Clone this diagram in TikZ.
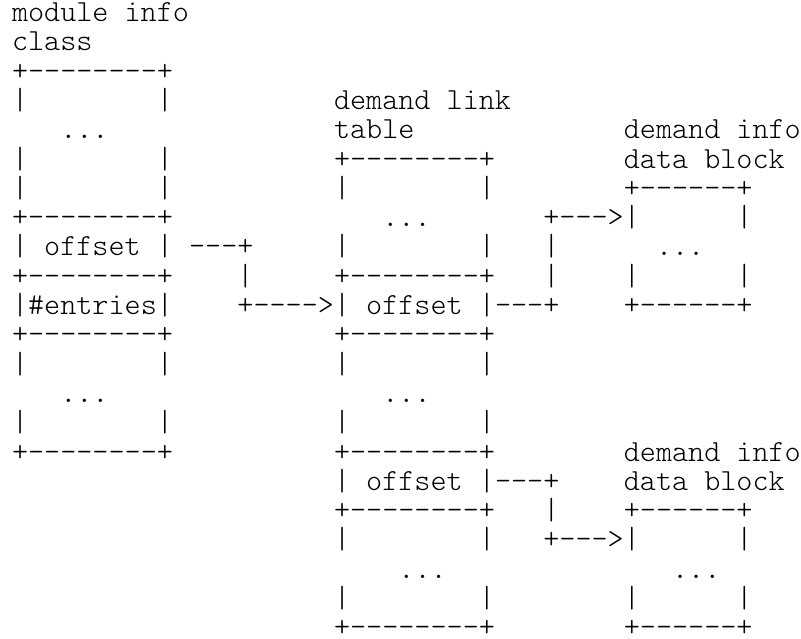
\documentclass[tikz,border=0pt]{standalone}
\usepackage{fontspec}
\setmonofont{lmmonolt10-regular.otf}
\tikzset{
  asc/.style={
    anchor=base west,
    inner sep=0pt,
    outer sep=0pt,
    font=\ttfamily\fontsize{15.33pt}{14.65pt}\selectfont,
  },
}

\begin{document}
\begin{tikzpicture}[x=8.05pt, y=-14.65pt]
\path[fill=white, use as bounding box] (-6pt,10.75pt) rectangle (394.5pt,-308.25pt);

% module info class
\node[asc] (mic-name) at (0,0) {module info};
\node[asc] (mic-name2) at (0,1) {class};
\foreach \r in {2,7,9,11,15}
  \node[asc] (mic-rule\r) at (0,\r) {+--------+};
\foreach \r in {3,5,6,12,14}
  \node[asc] (mic-side\r) at (0,\r) {|~~~~~~~~|};
\node[asc] (mic-dots1) at (3,4) {...};
\node[asc] (mic-dots2) at (3,13) {...};
\node[asc] (mic-off) at (0,8) {|~offset~|};
\node[asc] (mic-cnt) at (0,10) {|\#entries|};

% demand link table
\node[asc] (dlt-name) at (20,3) {demand link};
\node[asc] (dlt-name2) at (20,4) {table};
\foreach \r in {5,9,11,15,17,21}
  \node[asc] (dlt-rule\r) at (20,\r) {+--------+};
\foreach \r in {6,8,12,14,18,20}
  \node[asc] (dlt-side\r) at (20,\r) {|~~~~~~~~|};
\node[asc] (dlt-dots1) at (23,7) {...};
\node[asc] (dlt-dots2) at (23,13) {...};
\node[asc] (dlt-dots3) at (24,19) {...};
\node[asc] (dlt-off1) at (20,10) {|~offset~|};
\node[asc] (dlt-off2) at (20,16) {|~offset~|};

% demand info data blocks
\node[asc] (dib1-name) at (38,4) {demand info};
\node[asc] (dib1-name2) at (38,5) {data block};
\node[asc] (dib1-top) at (38,6) {+------+};
\node[asc] (dib1-side1) at (38,7) {|~~~~~~|};
\node[asc] (dib1-dots) at (40,8) {...};
\node[asc] (dib1-side2) at (38,9) {|~~~~~~|};
\node[asc] (dib1-bot) at (38,10) {+------+};

\node[asc] (dib2-name) at (38,15) {demand info};
\node[asc] (dib2-name2) at (38,16) {data block};
\node[asc] (dib2-top) at (38,17) {+------+};
\node[asc] (dib2-side1) at (38,18) {|~~~~~~|};
\node[asc] (dib2-dots) at (41,19) {...};
\node[asc] (dib2-side2) at (38,20) {|~~~~~~|};
\node[asc] (dib2-bot) at (38,21) {+------+};

% offset pointers
\node[asc] (p1-a) at (11,8) {---+};
\node[asc] (p1-b) at (14,9) {|};
\node[asc] (p1-c) at (14,10) {+---->};

\node[asc] (p2-a) at (30,10) {---+};
\node[asc] (p2-b) at (33,9) {|};
\node[asc] (p2-c) at (33,8) {|};
\node[asc] (p2-d) at (33,7) {+--->};

\node[asc] (p3-a) at (30,16) {---+};
\node[asc] (p3-b) at (33,17) {|};
\node[asc] (p3-c) at (33,18) {+--->};
\end{tikzpicture}
\end{document}
